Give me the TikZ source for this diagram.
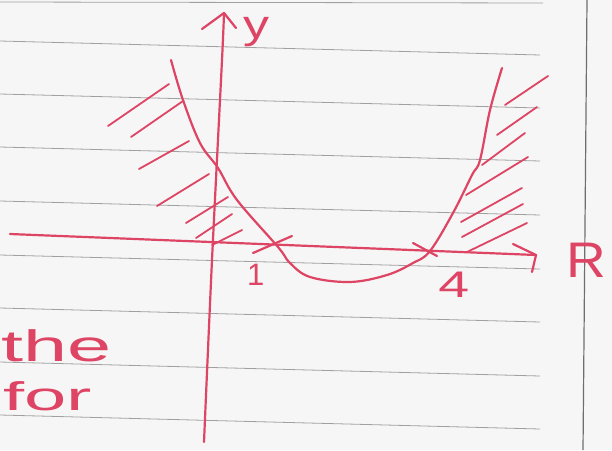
\documentclass[tikz,border=0pt]{standalone}
\usepackage{fontspec}
\setmainfont{Liberation Sans}
\definecolor{pen}{RGB}{222,68,100}
\definecolor{rulegrey}{RGB}{160,160,160}
\definecolor{edgegrey}{RGB}{110,110,110}
\definecolor{paper}{RGB}{246,246,246}
\begin{document}
\begin{tikzpicture}[x=1pt,y=-1pt,
  penline/.style={draw=pen,line width=2.2pt,line cap=round,line join=round},
  hatchline/.style={draw=pen,line width=1.8pt,line cap=round},
  ruleline/.style={draw=rulegrey,line width=0.8pt},
  handtext/.style={text=pen,inner sep=0pt,anchor=base west}]
\useasboundingbox (0,0) rectangle (612,450);
\fill[paper] (0,0) rectangle (612,450);
\begin{scope}
\clip (0,0) rectangle (612,450);
% ruled paper
\foreach \yy in {41,94,147,201,255,308,362,415}{
  \draw[ruleline] (0,\yy) -- (540,\yy+14);
}
\draw[ruleline] (0,2) -- (543,3);
\draw[edgegrey,line width=1.2pt] (587,0) -- (583,450);

% axes
\coordinate (xl) at (10,234);
\coordinate (xr) at (536,255);
\draw[penline] (xl) -- (xr);
\draw[penline] (513,244) -- (xr) -- (532,272);
\coordinate (yt) at (224,13);
\coordinate (yb) at (204,442);
\draw[penline] plot[smooth] coordinates {(yt) (222,60) (212,260) (yb)};
\draw[penline] (202,29) -- (yt) -- (236,28);

% curve
\draw[penline] plot[smooth,tension=0.6] coordinates {(171,60) (183,100) (200,143) (218,168) (237,200) (278,247) (290,263) (310,277) (350,282) (387,275) (413,263) (430,251) (453,213) (472,175) (480,160) (490,110) (502,68)};

% crosses at the roots
\draw[penline] (253,253) -- (292,236);
\draw[penline] (413,243) -- (437,256);

% hatching left
\foreach \a/\b in {{(108,126)}/{(169,84)},{(131,137)}/{(183,101)},{(139,169)}/{(189,141)},{(157,206)}/{(209,174)},{(186,223)}/{(228,197)},{(196,238)}/{(232,214)},{(212,245)}/{(242,230)}}{
  \draw[hatchline] \a -- \b;
}
% hatching right
\foreach \a/\b in {{(505,105)}/{(548,76)},{(497,135)}/{(537,107)},{(482,165)}/{(525,133)},{(466,195)}/{(528,157)},{(461,222)}/{(522,188)},{(462,237)}/{(523,204)},{(467,252)}/{(527,223)}}{
  \draw[hatchline] \a -- \b;
}

% labels
\node[handtext,font=\fontsize{40}{40}\selectfont,xscale=1.3] (ylab) at (243,38) {y};
\node[handtext,font=\fontsize{50}{50}\selectfont,xscale=1.1] (rlab) at (566,277) {R};
\node[handtext,font=\fontsize{31}{31}\selectfont] (one) at (247,285) {1};
\node[handtext,font=\fontsize{37}{37}\selectfont,xscale=1.5] (four) at (438,297) {4};
\node[handtext,font=\fontsize{44}{44}\selectfont,xscale=1.8] (the) at (1,361) {the};
\node[handtext,font=\fontsize{40}{40}\selectfont,xscale=1.9] (for) at (3,410) {for};
\end{scope}
\end{tikzpicture}
\end{document}
